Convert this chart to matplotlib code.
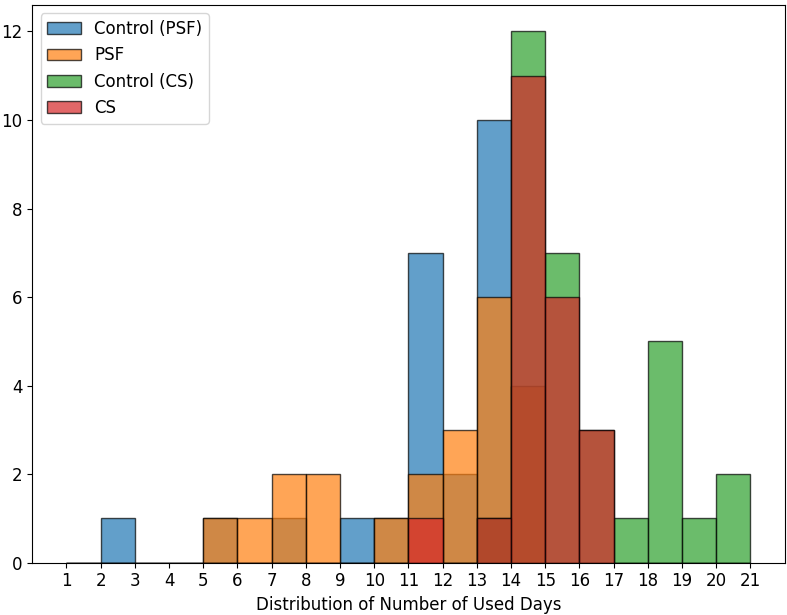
import numpy as np
import matplotlib.pyplot as plt

# bin edges 1..21 (one bin per day)
edges = list(range(1, 22))
days = edges[:-1]

# counts per bin, left edge = day
control_psf = [0, 1, 0, 0, 1, 0, 1, 0, 1, 1, 7, 2, 10, 0, 0, 0, 0, 0, 0, 0]
psf         = [0, 0, 0, 0, 1, 1, 2, 2, 0, 1, 2, 3, 6, 4, 0, 0, 0, 0, 0, 0]
control_cs  = [0, 0, 0, 0, 0, 0, 0, 0, 0, 0, 0, 0, 1, 12, 7, 3, 1, 5, 1, 2]
cs          = [0, 0, 0, 0, 0, 0, 0, 0, 0, 0, 1, 0, 1, 11, 6, 3, 0, 0, 0, 0]

series = [('Control (PSF)', control_psf), ('PSF', psf),
          ('Control (CS)', control_cs), ('CS', cs)]

plt.rcParams['font.size'] = 12

fig = plt.figure(figsize=(7.87, 6.15), dpi=100)
ax = fig.add_subplot(111)
fig.subplots_adjust(left=0.041, right=0.997, bottom=0.085, top=0.992)

for name, counts in series:
    ax.hist(days, bins=edges, weights=counts, alpha=0.7, edgecolor='black', label=name)

ax.set_xticks(edges)
ax.set_xlabel('Distribution of Number of Used Days')
ax.legend(loc='upper left', fontsize=12)

plt.savefig('out.png')
